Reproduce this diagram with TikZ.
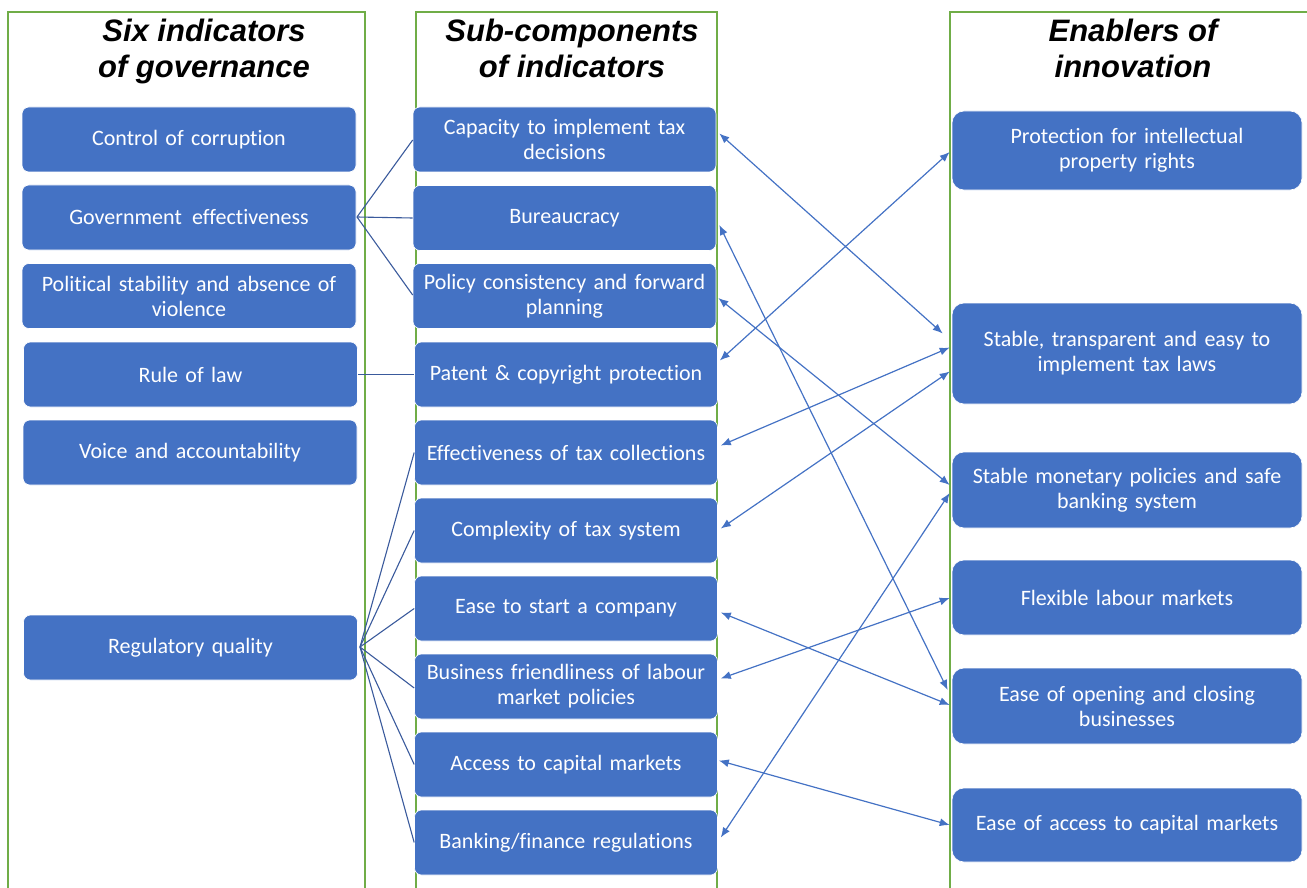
\documentclass[tikz,border=0pt]{standalone}
\usepackage{fontspec}
\setmainfont[Ligatures=NoCommon]{Carlito}
\newfontfamily\headfont{Liberation Sans}
\usetikzlibrary{arrows.meta,calc}
\definecolor{boxblue}{HTML}{4472C4}
\definecolor{framegreen}{HTML}{70AD47}
\definecolor{linkdark}{HTML}{3A5A9C}
\definecolor{arrowblue}{HTML}{4472C4}
\begin{document}
\begin{tikzpicture}[x=1pt,y=-1pt,
  box/.style={fill=boxblue,draw=white,line width=0.6pt,rounded corners=7pt,text=white,
    minimum height=65pt,align=center,inner sep=2pt,
    font=\fontsize{22}{25}\selectfont},
  lbox/.style={box,minimum width=334pt,text width=325pt},
  mbox/.style={box,minimum width=303pt,text width=298pt},
  rbox/.style={box,minimum width=350pt,text width=345pt,rounded corners=12pt},
  head/.style={align=center,font=\headfont\bfseries\itshape\fontsize{31}{36}\selectfont},
  frame/.style={draw=framegreen,line width=1.3pt},
  link/.style={draw=linkdark,line width=1.1pt},
  arr/.style={draw=arrowblue,line width=1.2pt,{Latex[length=10pt,width=8pt]}-{Latex[length=10pt,width=8pt]}}
]
\useasboundingbox (0,0) rectangle (1307,888);
\clip (0,0) rectangle (1307,888);
% frames
\draw[frame] (8,12) rectangle (365,900);
\draw[frame] (416,12) rectangle (717,900);
\draw[frame] (950,12) rectangle (1320,900);
% headers
\node[head] (h1) at (204,51) {Six indicators\\of governance};
\node[head] (h2) at (572,48) {Sub-components\\of indicators};
\node[head] (h3) at (1133,48) {Enablers of\\innovation};
% left column
\node[lbox] (corr) at (189,139.5) {Control of corruption};
\node[lbox] (gov)  at (189,217.5) {Government\hspace{3pt} effectiveness};
\node[lbox] (pol)  at (189,296) {Political stability and absence of\\violence};
\node[lbox] (rule) at (190.5,374.5) {Rule of law};
\node[lbox] (voice) at (190,452.5) {Voice and accountability};
\node[lbox] (reg)  at (190.5,647.5) {Regulatory quality};
% middle column
\node[mbox] (cap)  at (564.5,139.5) {Capacity to implement tax\\decisions};
\node[mbox] (bur)  at (564.5,218) {Bureaucracy};
\node[mbox] (poli) at (564.5,296) {Policy consistency and forward\\planning};
\node[mbox] (pat)  at (566,374.5) {Patent \& copyright protection};
\node[mbox] (eff)  at (566,452.5) {Effectiveness of tax collections};
\node[mbox] (comp) at (566,530.5) {Complexity of tax system};
\node[mbox] (start) at (566,608.5) {Ease to start a company};
\node[mbox] (bus)  at (566,686.5) {Business friendliness of labour\\market policies};
\node[mbox] (acc)  at (566,764.5) {Access to capital markets};
\node[mbox] (bank) at (566,842.5) {Banking/finance regulations};
% right column
\node[rbox,minimum height=79pt] (prot) at (1127,150.5) {Protection for intellectual\\property rights};
\node[rbox,minimum height=101pt] (stax) at (1127,353.5) {Stable, transparent and easy to\\implement tax laws};
\node[rbox,minimum height=76pt] (mon) at (1127,490) {Stable monetary policies and safe\\banking system};
\node[rbox,minimum height=75pt] (flex) at (1127,597.5) {Flexible labour markets};
\node[rbox,minimum height=76pt] (open) at (1127,706) {Ease of opening and closing\\businesses};
\node[rbox,minimum height=74pt] (eacc) at (1127,825) {Ease of access to capital markets};
% governance links (yshift is in page points: positive = up)
\coordinate (gj) at (357,217);
\coordinate (rj) at (360,647);
\draw[link] (gj) -- ([yshift=78pt]bur.west);
\draw[link] (gj) -- (bur.west);
\draw[link] (gj) -- ([yshift=-77pt]bur.west);
\draw[link] (rule.east) -- (pat.west);
\draw[link] (rj) -- (eff.west);
\draw[link] (rj) -- (comp.west);
\draw[link] (rj) -- (start.west);
\draw[link] (rj) -- ([yshift=-1.5pt]bus.west);
\draw[link] (rj) -- (acc.west);
\draw[link] (rj) -- (bank.west);
% enabler arrows
\draw[arr] ([xshift=3pt,yshift=6pt]cap.east) -- ([xshift=-9pt,yshift=20pt]stax.west);
\draw[arr] ([xshift=3pt,yshift=-7pt]bur.east) -- ([xshift=-4pt,yshift=16pt]open.west);
\draw[arr] ([xshift=2pt,yshift=-2pt]poli.east) -- ([xshift=-2pt,yshift=5pt]mon.west);
\draw[arr] ([xshift=2pt,yshift=14pt]pat.east) -- ([xshift=-2pt,yshift=-1.5pt]prot.west);
\draw[arr] ([xshift=3pt,yshift=7pt]eff.east) -- ([xshift=-2pt,yshift=6pt]stax.west);
\draw[arr] ([xshift=3pt,yshift=2pt]comp.east) -- ([xshift=-2pt,yshift=-18pt]stax.west);
\draw[arr] ([xshift=3pt,yshift=-4pt]start.east) -- ([xshift=-2pt,yshift=1pt]open.west);
\draw[arr] ([xshift=3pt,yshift=8pt]bus.east) -- ([xshift=-2pt,yshift=-0.5pt]flex.west);
\draw[arr] ([xshift=1pt,yshift=4pt]acc.east) -- ([xshift=-2pt]eacc.west);
\draw[arr] ([xshift=3pt,yshift=5pt]bank.east) -- ([xshift=-2pt,yshift=-3pt]mon.west);
\end{tikzpicture}
\end{document}
